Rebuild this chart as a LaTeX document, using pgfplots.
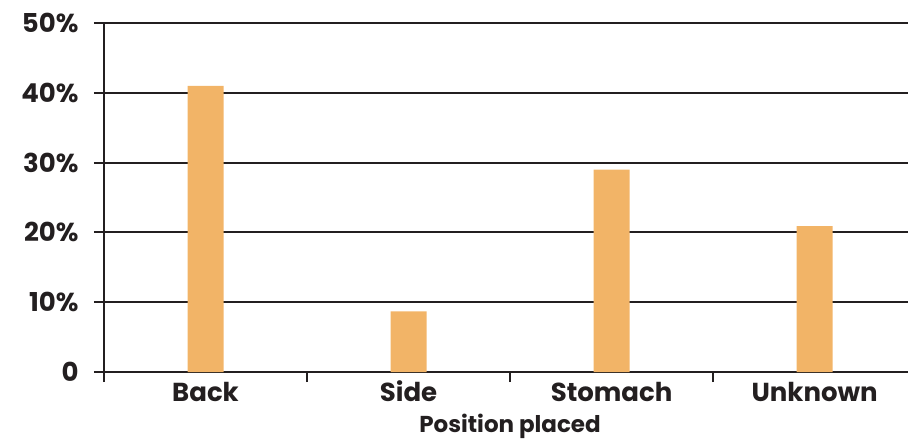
\documentclass[border=0pt]{standalone}
\usepackage{fontspec}
\setmainfont{Poppins}
\usepackage{pgfplots}
\pgfplotsset{compat=1.18}
\definecolor{barc}{HTML}{F2B467}
\definecolor{ink}{HTML}{231F20}
\begin{document}
\begin{tikzpicture}
\begin{axis}[
  scale only axis,
  width=804pt, height=349pt,
  xmin=-0.5, xmax=3.46,
  ymin=0, ymax=50,
  axis x line*=bottom,
  axis y line*=left,
  axis line style={ink, line width=2pt},
  xtick={0,1,2,3},
  xticklabels={Back,Side,Stomach,Unknown},
  major x tick style={draw=none},
  minor xtick={-0.5,0.5,1.5,2.5},
  minor x tick style={ink, line width=2pt},
  minor tick length=10pt,
  ytick={0,10,20,30,40,50},
  yticklabels={0,10\%,20\%,30\%,40\%,50\%},
  major y tick style={ink, line width=2pt},
  major tick length=10pt,
  tick align=outside,
  ymajorgrids,
  grid style={ink, line width=2pt},
  ticklabel style={font=\fontsize{26}{28}\selectfont\bfseries, text=ink},
  yticklabel style={xshift=-12pt},
  xticklabel style={anchor=base, yshift=-19pt},
  xlabel={Position placed},
  xlabel style={font=\fontsize{23}{25}\selectfont\bfseries, text=ink,
    at={(axis description cs:0.505,0)}, anchor=base, yshift=-60pt},
  clip=false,
]
\addplot[ybar, bar width=36pt, fill=barc, draw=none] coordinates {(0,41) (1,8.7) (2,29) (3,20.9)};
\coordinate (sw) at (rel axis cs:0,0);
\coordinate (ne) at (rel axis cs:1,1);
\end{axis}
\pgfresetboundingbox
\useasboundingbox ([xshift=-104pt,yshift=-68pt]sw) rectangle ([yshift=23pt]ne);
\end{tikzpicture}
\end{document}
